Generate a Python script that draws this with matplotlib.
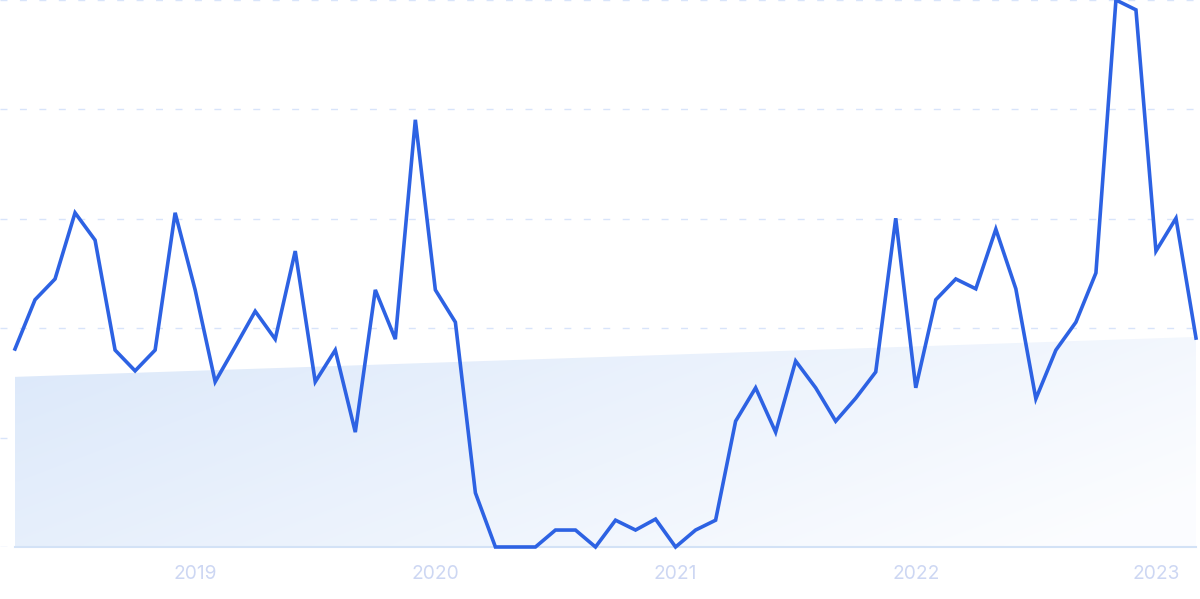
import numpy as np
import matplotlib.pyplot as plt
from matplotlib.patches import Polygon

# monthly values, 2018-04 .. 2023-03
values = [36.2, 45.2, 49.0, 61.1, 56.1, 36.0, 32.2, 36.0, 61.1, 47.0,
          30.2, 36.6, 43.1, 38.0, 54.1, 30.2, 36.0, 21.0, 47.0, 38.0,
          78.1, 47.0, 41.1, 9.9, 0.0, 0.0, 0.0, 3.1, 3.1, 0.0,
          4.9, 3.1, 5.1, 0.0, 3.1, 4.9, 23.0, 29.1, 21.0, 34.0,
          29.1, 23.0, 27.2, 32.0, 60.1, 29.1, 45.2, 49.0, 47.2, 58.1,
          47.2, 27.1, 36.0, 41.1, 50.1, 100.0, 98.2, 54.1, 60.1, 38.2]
trend_start = 31.1
trend_end = 38.4
year_labels = ["2019", "2020", "2021", "2022", "2023"]
year_month_idx = [9, 21, 33, 45, 57]
grid_levels = [0, 20, 40, 60, 80, 100]

x = np.arange(len(values))
n = len(values)

fig = plt.figure(figsize=(12, 5.99), dpi=100)
ax = fig.add_axes([0, 52 / 599, 1, 547 / 599])
ax.set_xlim(-15 / 20.017, (n - 1) + 4 / 20.017)
ax.set_ylim(0, 100)

for lv in grid_levels:
    ax.axhline(lv, color="#d8e4fa", lw=1, ls=(0, (5, 9)), zorder=1)

# trend area with diagonal gradient
trend = np.linspace(trend_start, trend_end, n)
poly = Polygon(list(zip(x, trend)) + [(x[-1], 0), (x[0], 0)],
               closed=True, facecolor="none", edgecolor="none")
ax.add_patch(poly)
gx, gy = np.meshgrid(np.linspace(0, 1, 200), np.linspace(0, 1, 100))
t = np.clip(0.75 * gx + 0.35 * (1 - gy), 0, 1)
c0 = np.array([0.86, 0.91, 0.98])
c1 = np.array([0.985, 0.99, 1.0])
img = c0[None, None, :] * (1 - t[..., None]) + c1[None, None, :] * t[..., None]
im = ax.imshow(img, extent=[x[0], x[-1], 0, trend_end], origin="lower",
               aspect="auto", zorder=2, interpolation="bilinear")
im.set_clip_path(poly)

ax.plot([x[0], x[-1]], [0, 0], color="#d3e2f6", lw=1.5, zorder=3, clip_on=False)
ax.plot(x, values, color="#2d62e3", lw=2.6, zorder=4, clip_on=False,
        solid_joinstyle="miter")

ax.set_xticks(year_month_idx)
ax.set_xticklabels(year_labels, family="Inter")
ax.tick_params(axis="x", length=0, pad=13, labelsize=13.8, labelcolor="#cdd7f3")
ax.set_yticks([])
for s in ax.spines.values():
    s.set_visible(False)

fig.savefig("out.png", dpi=100)
